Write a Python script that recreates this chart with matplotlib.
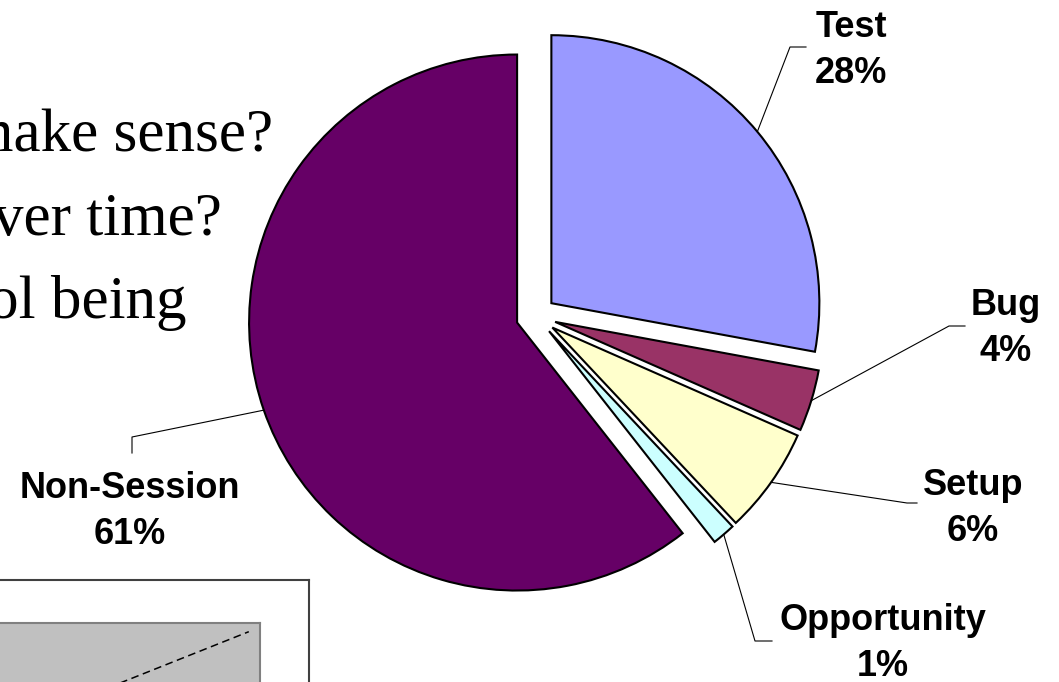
import math
import matplotlib.pyplot as plt

W, H = 1059, 682

categories = ['Test', 'Bug', 'Setup', 'Opportunity', 'Non-Session']
shares = [27.9, 3.7, 6.4, 1.4, 60.6]
colors = ['#9999FF', '#993366', '#FFFFCC', '#CCFFFF', '#660066']

# bits of the slide text that show on the left
slide_lines = ['make sense?', 'ver time?', 'ol being']

# trend line of the small chart cut off in the lower left corner
trend_x = [0.33, 0.96]
trend_y = [0.0, 0.89]

# label layout in pixels from the top left: text centre x, first baseline,
# leader elbow, leader end
label_layout = {
    'Test': (851, 37, (790, 47), (806, 47)),
    'Bug': (1006, 315, (949, 326), (965, 326)),
    'Setup': (973, 495, (907, 503), (917, 503)),
    'Opportunity': (883, 630, (755, 641), (772, 641)),
    'Non-Session': (130, 498, (132, 437), (132, 453)),
}


def fy(py):
    # pixel row (from the top) -> data y
    return H - py


fig = plt.figure(figsize=(W / 100, H / 100), dpi=100)
ax = fig.add_axes([0, 0, 1, 1])

radius = 268
wedges, _ = ax.pie(shares, explode=[20] * len(shares), colors=colors,
                   startangle=90, counterclock=False, radius=radius,
                   center=(536, fy(316)),
                   wedgeprops=dict(edgecolor='black', linewidth=1.5))
ax.set_xlim(0, W)
ax.set_ylim(0, H)
ax.axis('off')

lab_font = dict(family='Liberation Sans', weight='bold', size=26)
for w, name, share in zip(wedges, categories, shares):
    tx, base, elbow, end = label_layout[name]
    mid = math.radians((w.theta1 + w.theta2) / 2)
    cx, cy = w.center
    start = (cx + w.r * math.cos(mid), cy + w.r * math.sin(mid))
    ax.plot([start[0], elbow[0], end[0]], [start[1], fy(elbow[1]), fy(end[1])],
            color='black', lw=0.8)
    ax.text(tx, fy(base), name, ha='center', va='baseline', **lab_font)
    ax.text(tx, fy(base + 46), f'{round(share)}%', ha='center', va='baseline', **lab_font)

# slide text behind the chart
for txt, right, base in zip(slide_lines, [273, 222, 187], [152, 235, 318]):
    ax.text(right, fy(base), txt, ha='right', va='baseline',
            family='Liberation Serif', size=44, color='black')

# small chart in the lower left corner
outer = fig.add_axes([-20 / W, -20 / H, 328.5 / W, (H - 580 + 20) / H])
outer.set_xticks([])
outer.set_yticks([])
for s in outer.spines.values():
    s.set_color('#404040')
    s.set_linewidth(1.5)

inner = fig.add_axes([-20 / W, -20 / H, 280 / W, (H - 623 + 20) / H])
inner.set_facecolor('#C0C0C0')
inner.set_xticks([])
inner.set_yticks([])
for s in inner.spines.values():
    s.set_color('#808080')
    s.set_linewidth(1.5)
inner.plot(trend_x, trend_y, color='black', lw=1.1, linestyle=(0, (5, 3)))
inner.set_xlim(0, 1)
inner.set_ylim(0, 1)

fig.savefig('out.png', dpi=100)
